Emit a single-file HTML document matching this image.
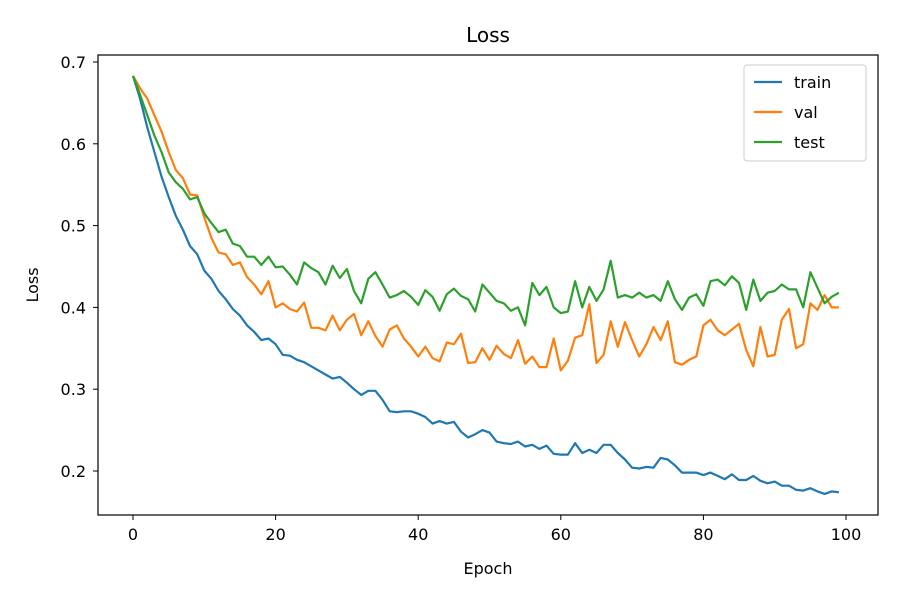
<!DOCTYPE html>
<html><head><meta charset="utf-8"><style>
body{margin:0;background:#fff;}
svg text{font-family:"DejaVu Sans","Liberation Sans",sans-serif;fill:#000;}
</style></head><body>
<svg id="chart" width="900" height="600" viewBox="0 0 900 600">
<rect x="0" y="0" width="900" height="600" fill="#fff"/>
<text x="488" y="42" font-size="20" text-anchor="middle">Loss</text>
<g id="ticks"></g>
<g id="series"></g>
<rect x="98" y="55" width="780" height="460" fill="none" stroke="#000" stroke-width="1.2"/>
<text x="488" y="574" font-size="16" text-anchor="middle">Epoch</text>
<text x="38" y="285" font-size="16" text-anchor="middle" transform="rotate(-90 38 285)">Loss</text>
<g>
<rect x="744" y="65" width="122" height="96" rx="3" fill="#fff" stroke="#ccc" stroke-width="1"/>
<g><line x1="754" y1="82" x2="782" y2="82" stroke="#1f77b4" stroke-width="2.2"/><text x="794" y="88" font-size="16">train</text></g>
<g><line x1="754" y1="112" x2="782" y2="112" stroke="#ff7f0e" stroke-width="2.2"/><text x="794" y="118" font-size="16">val</text></g>
<g><line x1="754" y1="142" x2="782" y2="142" stroke="#2ca02c" stroke-width="2.2"/><text x="794" y="148" font-size="16">test</text></g>
</g>
</svg>
<script>
const xTicks=[0,20,40,60,80,100];
const yTicks=[0.2,0.3,0.4,0.5,0.6,0.7];
const yTickLabels=["0.2","0.3","0.4","0.5","0.6","0.7"];
const train=[0.683,0.655,0.62,0.59,0.56,0.535,0.512,0.495,0.475,0.465,0.445,0.435,0.42,0.41,0.398,0.39,0.378,0.37,0.36,0.362,0.355,0.342,0.341,0.336,0.333,0.328,0.323,0.318,0.313,0.315,0.308,0.3,0.293,0.298,0.298,0.287,0.273,0.272,0.273,0.273,0.27,0.266,0.258,0.261,0.258,0.26,0.248,0.241,0.245,0.25,0.247,0.236,0.234,0.233,0.236,0.23,0.232,0.227,0.231,0.221,0.22,0.22,0.234,0.222,0.226,0.222,0.232,0.232,0.222,0.214,0.204,0.203,0.205,0.204,0.216,0.214,0.207,0.198,0.198,0.198,0.195,0.198,0.194,0.19,0.196,0.189,0.189,0.194,0.188,0.185,0.187,0.182,0.182,0.177,0.176,0.179,0.175,0.172,0.175,0.174];
const val=[0.683,0.668,0.655,0.635,0.615,0.59,0.568,0.558,0.538,0.537,0.51,0.485,0.467,0.465,0.452,0.455,0.437,0.428,0.416,0.432,0.4,0.405,0.398,0.395,0.406,0.375,0.375,0.372,0.39,0.372,0.385,0.392,0.366,0.383,0.365,0.352,0.373,0.378,0.362,0.352,0.34,0.352,0.338,0.334,0.357,0.355,0.368,0.332,0.333,0.35,0.336,0.353,0.343,0.338,0.36,0.331,0.34,0.327,0.327,0.362,0.323,0.335,0.363,0.366,0.404,0.332,0.342,0.383,0.352,0.382,0.36,0.34,0.355,0.376,0.36,0.383,0.333,0.33,0.336,0.34,0.378,0.385,0.372,0.366,0.373,0.38,0.348,0.328,0.376,0.34,0.342,0.385,0.398,0.35,0.355,0.405,0.397,0.415,0.4,0.4];
const test=[0.683,0.66,0.635,0.61,0.59,0.565,0.553,0.545,0.532,0.535,0.515,0.503,0.492,0.495,0.478,0.475,0.462,0.462,0.452,0.462,0.449,0.45,0.44,0.428,0.455,0.448,0.443,0.428,0.451,0.436,0.447,0.42,0.405,0.435,0.443,0.428,0.412,0.415,0.42,0.413,0.403,0.421,0.413,0.396,0.416,0.423,0.414,0.41,0.395,0.428,0.418,0.408,0.405,0.396,0.4,0.378,0.43,0.415,0.425,0.4,0.393,0.395,0.432,0.4,0.425,0.408,0.422,0.457,0.412,0.415,0.412,0.418,0.412,0.415,0.408,0.432,0.41,0.397,0.412,0.416,0.402,0.432,0.434,0.427,0.438,0.43,0.397,0.434,0.408,0.418,0.42,0.428,0.422,0.422,0.4,0.443,0.424,0.405,0.413,0.418];
const NS="http://www.w3.org/2000/svg";
function xs(v){return 133+v*7.13;}
function ys(v){return 62+(0.7-v)*818;}
const tg=document.getElementById('ticks');
xTicks.forEach(t=>{
  const l=document.createElementNS(NS,'line');
  l.setAttribute('x1',xs(t));l.setAttribute('x2',xs(t));l.setAttribute('y1',515);l.setAttribute('y2',520);
  l.setAttribute('stroke','#000');
  
  
  tg.appendChild(l);
  const tx=document.createElementNS(NS,'text');
  tx.setAttribute('x',xs(t));tx.setAttribute('y',540);tx.setAttribute('font-size','16');tx.setAttribute('text-anchor','middle');
  tx.textContent=String(t);
  
  
  tg.appendChild(tx);
});
yTicks.forEach((t,i)=>{
  const l=document.createElementNS(NS,'line');
  l.setAttribute('x1',93);l.setAttribute('x2',98);l.setAttribute('y1',ys(t));l.setAttribute('y2',ys(t));
  l.setAttribute('stroke','#000');
  
  
  tg.appendChild(l);
  const tx=document.createElementNS(NS,'text');
  tx.setAttribute('x',86);tx.setAttribute('y',ys(t)+6);tx.setAttribute('font-size','16');tx.setAttribute('text-anchor','end');
  tx.textContent=yTickLabels[i];
  
  
  tg.appendChild(tx);
});
const sg=document.getElementById('series');
[[train,'#1f77b4','train-line'],[val,'#ff7f0e','val-line'],[test,'#2ca02c','test-line']].forEach(s=>{
  const p=document.createElementNS(NS,'polyline');
  p.setAttribute('points',s[0].map((v,i)=>xs(i).toFixed(1)+','+ys(v).toFixed(1)).join(' '));
  p.setAttribute('fill','none');p.setAttribute('stroke',s[1]);p.setAttribute('stroke-width','2.2');
  p.setAttribute('stroke-linejoin','round');
  
  
  sg.appendChild(p);
});
</script>
</body></html>
